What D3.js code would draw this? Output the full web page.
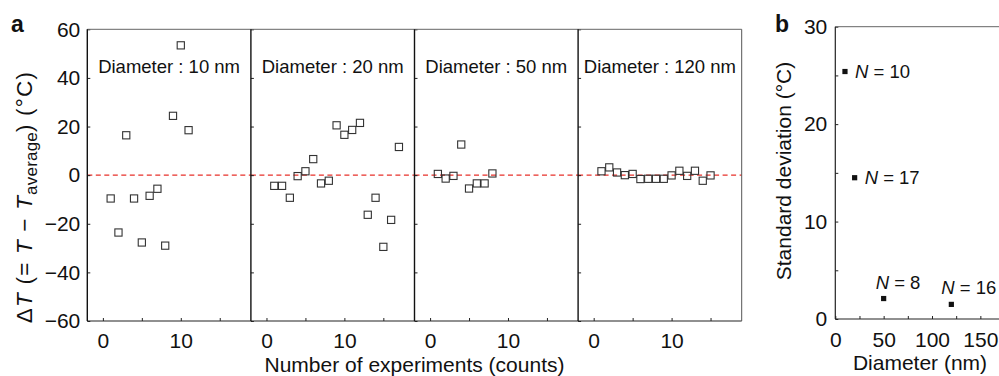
<!DOCTYPE html>
<html>
<head>
<meta charset="utf-8">
<script src="https://cdn.jsdelivr.net/npm/d3@7"></script>
<style>
  body { margin: 0; background: #fff; }
  svg text { font-family: "Liberation Sans", Arial, Helvetica, sans-serif; fill: #111; }
  .axis text { font-size: 21px; }
</style>
</head>
<body>
<svg id="chart" width="999" height="376"></svg>
<script>
// ---- panel a : deviation per experiment, one box per diameter ----
const panelTitles = ['Diameter : 10 nm', 'Diameter : 20 nm', 'Diameter : 50 nm', 'Diameter : 120 nm'];
const dev10 = [-9.6, -23.6, 16.4, -9.6, -27.7, -8.5, -5.6, -29, 24.4, 53.4, 18.5];
const dev20 = [-4.4, -4.4, -9.3, -0.4, 1.6, 6.6, -3.4, -2.3, 20.5, 16.6, 18.6, 21.5, -16.3, -9.3, -29.5, -18.4, 11.6];
const dev50 = [0.5, -1.4, -0.3, 12.6, -5.5, -3.4, -3.4, 0.7];
const dev120 = [1.6, 3.2, 1.1, 0, 0.5, -1.6, -1.5, -1.5, -1.5, -0.1, 1.8, -0.3, 1.8, -2.3, -0.1];
const yTicksA = [-60, -40, -20, 0, 20, 40, 60];
const xTicksA = [0, 5, 10, 15];
const xLabelsA = [0, 10];

// ---- panel b : standard deviation vs diameter ----
const sdDiameter = [10, 20, 50, 120];
const sdValue = [25.4, 14.5, 2.1, 1.5];
const sdCount = [10, 17, 8, 16];
const yTicksB = [0, 5, 10, 15, 20, 25, 30];
const yLabelsB = [0, 10, 20, 30];
const xTicksB = [0, 25, 50, 75, 100, 125, 150, 175];
const xLabelsB = [0, 50, 100, 150];

const svg = d3.select('#chart');
const series = [dev10, dev20, dev50, dev120];

/* panel a layout */
const aLeft = 87.3, aTop = 29.3, aBottom = 321, pw = 163.6;
const yA = d3.scaleLinear().domain([-60, 60]).range([aBottom, aTop]);

series.forEach((vals, i) => {
  let left = aLeft + i * pw;
  let x = d3.scaleLinear().domain([-2, 19]).range([left, left + pw]);
  let g = svg.append('g').attr('class', 'panelA' + i);

  // zero line
  g.append('line')
    .attr('x1', left).attr('x2', left + pw)
    .attr('y1', yA(0)).attr('y2', yA(0))
    .attr('stroke', '#e8302a').attr('stroke-width', 1.4)
    .attr('stroke-dasharray', '5,3.5');

  // axes (ticks inward)
  g.append('g').attr('class', 'axis')
    .attr('transform', `translate(0,${aBottom})`)
    .attr('color', '#222')
    .call(d3.axisBottom(x).tickValues(xTicksA).tickSize(-3).tickPadding(12)
      .tickFormat(d => xLabelsA.includes(d) ? d : ''))
    .call(a => a.select('.domain').remove());

  g.append('g').attr('class', 'axis')
    .attr('transform', `translate(${left},0)`)
    .attr('color', '#222')
    .call(d3.axisLeft(yA).tickValues(yTicksA).tickSize(-3).tickPadding(7)
      .tickFormat(i === 0 ? d3.format('') : () => ''))
    .call(a => a.select('.domain').remove());

  // box
  g.append('line').attr('x1', left).attr('x2', left + pw).attr('y1', aTop).attr('y2', aTop)
    .attr('stroke', '#666').attr('stroke-width', 1);
  g.append('line').attr('x1', left).attr('x2', left + pw).attr('y1', aBottom).attr('y2', aBottom)
    .attr('stroke', '#222').attr('stroke-width', 1.2);
  g.append('line').attr('x1', left).attr('x2', left).attr('y1', aTop).attr('y2', aBottom)
    .attr('stroke', '#111').attr('stroke-width', 1.4);
  if (i === series.length - 1) {
    g.append('line').attr('x1', left + pw).attr('x2', left + pw).attr('y1', aTop).attr('y2', aBottom)
      .attr('stroke', '#555').attr('stroke-width', 1);
  }

  // title inside box
  g.append('text')
    .attr('x', left + pw / 2).attr('y', 72.5)
    .attr('text-anchor', 'middle')
    .style('font-size', '18.5px')
    .text(panelTitles[i]);

  // open squares
  g.selectAll('rect.pt')
    .data(vals)
    .enter()
    .append('rect')
    .attr('class', 'pt')
    .attr('x', (d, k) => x(k + 1) - 3.6)
    .attr('y', d => yA(d) - 3.6)
    .attr('width', 7.2).attr('height', 7.2)
    .attr('fill', 'none')
    .attr('stroke', '#333').attr('stroke-width', 1.1);
});

// panel a labels
svg.append('text').attr('x', 11).attr('y', 32)
  .style('font-size', '23px').style('font-weight', 'bold').text('a');

svg.append('text')
  .attr('x', aLeft + 2 * pw).attr('y', 372)
  .attr('text-anchor', 'middle')
  .style('font-size', '21px')
  .text('Number of experiments (counts)');

let yTitle = svg.append('text')
  .attr('transform', 'translate(32,197) rotate(-90)')
  .attr('text-anchor', 'middle')
  .style('font-size', '22.5px')
  .style('letter-spacing', '1.2px');
yTitle.append('tspan').text('\u0394');
yTitle.append('tspan').style('font-style', 'italic').text('T');
yTitle.append('tspan').text(' (= ');
yTitle.append('tspan').style('font-style', 'italic').text('T');
yTitle.append('tspan').text(' \u2212 ');
yTitle.append('tspan').style('font-style', 'italic').text('T');
yTitle.append('tspan').attr('dy', 5).style('font-size', '17px').style('letter-spacing', '0.2px').text('average');
yTitle.append('tspan').attr('dy', -5).text(') (\u00B0C)');

/* panel b layout */
const bLeft = 835.3, bTop = 26.7, bBottom = 319;
const xB = d3.scaleLinear().domain([0, 180]).range([bLeft, bLeft + 180 * 0.967]);
const yB = d3.scaleLinear().domain([0, 30]).range([bBottom, bTop]);
const gb = svg.append('g').attr('class', 'panelB');

gb.append('g').attr('class', 'axis')
  .attr('transform', `translate(0,${bBottom})`)
  .attr('color', '#222')
  .call(d3.axisBottom(xB).tickValues(xTicksB).tickSize(-3).tickPadding(13)
    .tickFormat(d => xLabelsB.includes(d) ? d : ''))
  .call(a => a.select('.domain').remove());

gb.append('g').attr('class', 'axis')
  .attr('transform', `translate(${bLeft},0)`)
  .attr('color', '#222')
  .call(d3.axisLeft(yB).tickValues(yTicksB).tickSize(-3).tickPadding(8)
    .tickFormat(d => yLabelsB.includes(d) ? d : ''))
  .call(a => a.select('.domain').remove());

gb.append('line').attr('x1', bLeft).attr('x2', 999).attr('y1', bTop).attr('y2', bTop)
  .attr('stroke', '#666').attr('stroke-width', 1);
gb.append('line').attr('x1', bLeft).attr('x2', 999).attr('y1', bBottom).attr('y2', bBottom)
  .attr('stroke', '#222').attr('stroke-width', 1.2);
gb.append('line').attr('x1', bLeft).attr('x2', bLeft).attr('y1', bTop).attr('y2', bBottom)
  .attr('stroke', '#222').attr('stroke-width', 1.2);

gb.selectAll('rect.sd')
  .data(sdValue)
  .enter()
  .append('rect')
  .attr('class', 'sd')
  .attr('x', (d, k) => xB(sdDiameter[k]) - 2.6)
  .attr('y', d => yB(d) - 2.6)
  .attr('width', 5.2).attr('height', 5.2)
  .attr('fill', '#111');

// N labels: first two to the right, last two above the point
let nLab = gb.selectAll('text.nlab')
  .data(sdValue)
  .enter()
  .append('text')
  .attr('class', 'nlab')
  .attr('x', (d, k) => xB(sdDiameter[k]) + (k < 2 ? 10 : -8 - (k - 2) * 2))
  .attr('y', (d, k) => yB(d) + (k < 2 ? 6.5 : -10))
  .style('font-size', '18.5px');
nLab.append('tspan').style('font-style', 'italic').text('N');
nLab.append('tspan').text((d, k) => ' = ' + sdCount[k]);

svg.append('text').attr('x', 775).attr('y', 32)
  .style('font-size', '23px').style('font-weight', 'bold').text('b');

svg.append('text')
  .attr('x', 920).attr('y', 370)
  .attr('text-anchor', 'middle')
  .style('font-size', '21px')
  .text('Diameter (nm)');

svg.append('text')
  .attr('transform', 'translate(791,171) rotate(-90)')
  .attr('text-anchor', 'middle')
  .style('font-size', '21px')
  .text('Standard deviation (\u00B0C)');
</script>
</body>
</html>
